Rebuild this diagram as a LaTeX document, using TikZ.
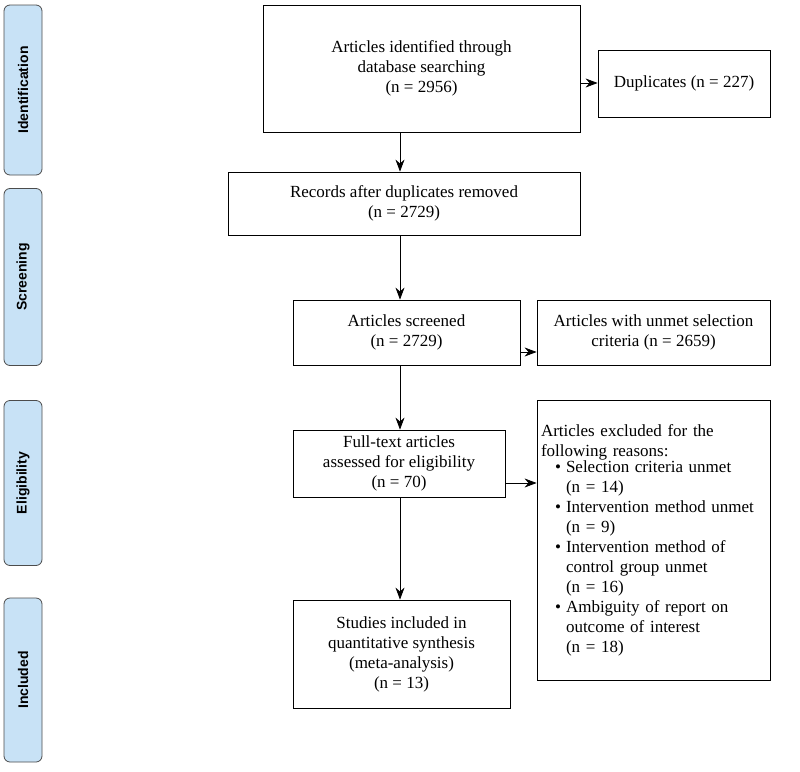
\documentclass[tikz,border=0pt]{standalone}
\usepackage{fontspec}
\setmainfont{Liberation Serif}
\newfontfamily\sidefont{Liberation Sans}
\usetikzlibrary{arrows.meta}
\definecolor{sidefill}{RGB}{200,226,246}
\begin{document}
\begin{tikzpicture}[x=1pt,y=-1pt,
 box/.style={draw,thick,align=center,font=\fontsize{17}{20}\selectfont,inner sep=0pt},
 side/.style={draw=black!70,thick,rounded corners=6pt,fill=sidefill,minimum height=38pt,font=\sidefont\bfseries\fontsize{14}{16}\selectfont},
 arr/.style={-{Stealth[length=12pt,width=9pt]},thick}]
\useasboundingbox (0,0) rectangle (800,771);
\node[side,minimum width=170pt,rotate=90] (s1) at (23,90) {Identification};
\node[side,minimum width=177pt,rotate=90] (s2) at (23,277) {Screening};
\node[side,minimum width=165pt,rotate=90] (s3) at (23,483) {Eligibility};
\node[side,minimum width=164pt,rotate=90] (s4) at (23,680) {Included};
\node[box,minimum width=317pt,minimum height=127pt] (a) at (421.5,68.5) {Articles identified through\\database searching\\(n = 2956)};
\node[box,minimum width=172pt,minimum height=67pt] (b) at (684,83.5) {Duplicates (n = 227)};
\node[box,minimum width=352pt,minimum height=63pt] (c) at (404,203.5) {Records after duplicates removed\\(n = 2729)};
\node[box,minimum width=227pt,minimum height=65pt] (d) at (406.5,332.5) {Articles screened\\(n = 2729)};
\node[box,minimum width=233pt,minimum height=65pt] (e) at (653.5,332.5) {Articles with unmet selection\\criteria (n = 2659)};
\node[box,minimum width=212pt,minimum height=67pt] (f) at (399,463.5) {Full-text articles\\assessed for eligibility\\(n = 70)};
\node[box,minimum width=233pt,minimum height=280pt,align=left,text width=225pt] (g) at (653.5,540) {Articles excluded for the\\following reasons:\vspace{-12pt}
\begin{itemize}\setlength\itemsep{0pt}\setlength\parskip{0pt}\setlength\leftmargin{18pt}\setlength\topsep{0pt}
\item Selection criteria unmet\\(n = 14)
\item Intervention method unmet\\(n = 9)
\item Intervention method of\\control group unmet\\(n = 16)
\item Ambiguity of report on\\outcome of interest\\(n = 18)
\end{itemize}};
\node[box,minimum width=217pt,minimum height=108pt] (h) at (401.5,654) {Studies included in\\quantitative synthesis\\(meta-analysis)\\(n = 13)};
\draw[arr] (a.south -| 400,0) -- (c.north -| 400,0);
\draw[arr] (c.south -| 400,0) -- (d.north -| 400,0);
\draw[arr] (d.south -| 400,0) -- (f.north -| 400,0);
\draw[arr] (f.south -| 400,0) -- (h.north -| 400,0);
\draw[arr] (a.east |- 0,83) -- (b.west |- 0,83);
\draw[arr] (d.east |- 0,352) -- (e.west |- 0,352);
\draw[arr] (f.east |- 0,483) -- (g.west |- 0,483);
\end{tikzpicture}
\end{document}
